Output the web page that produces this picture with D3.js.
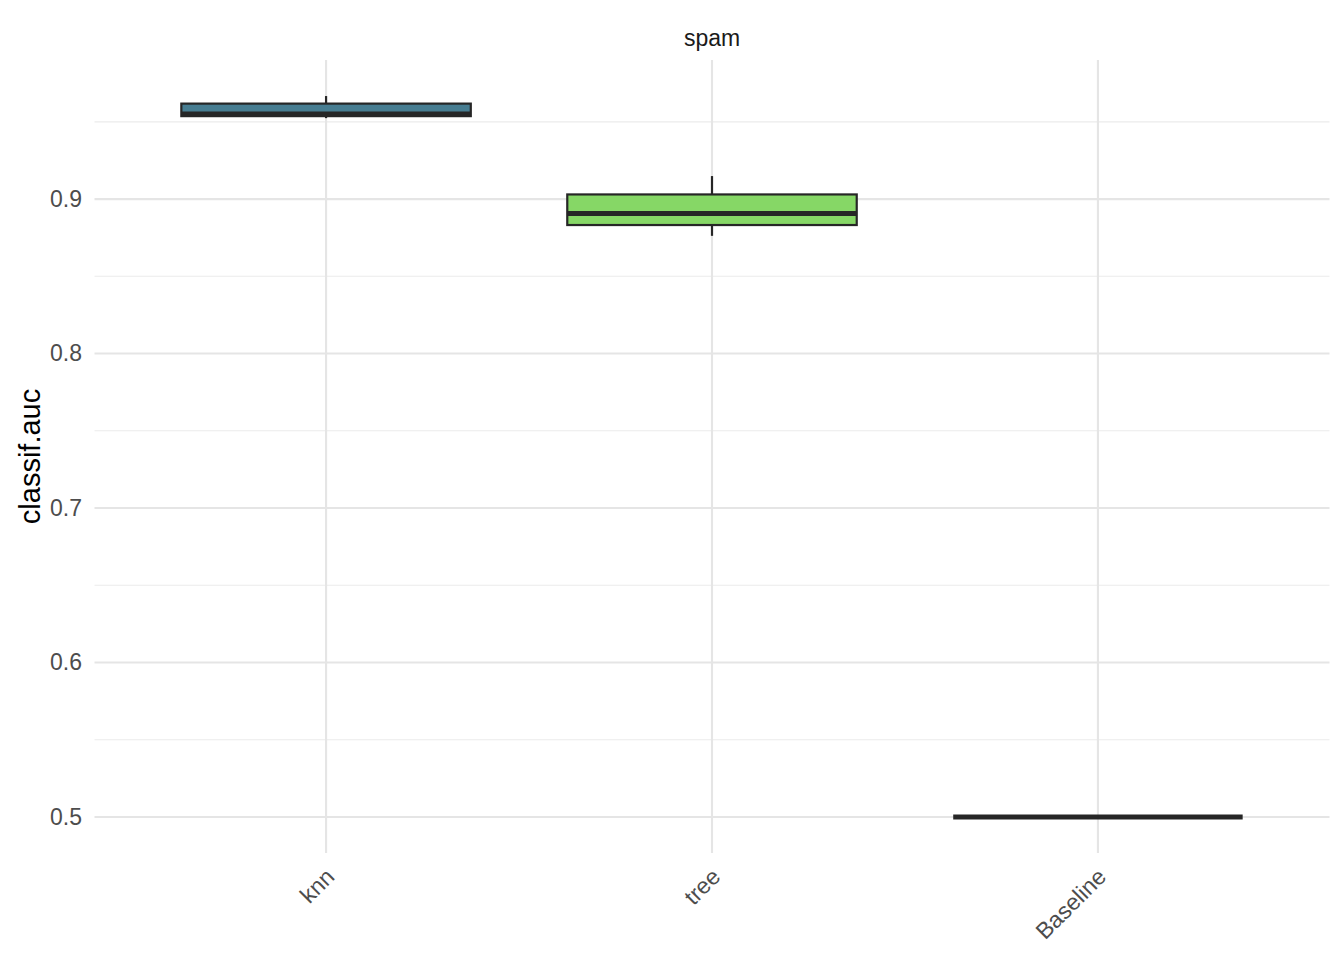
<!DOCTYPE html>
<html><head><meta charset="utf-8">
<script src="https://cdn.jsdelivr.net/npm/d3@7"></script>
<style>body{margin:0;background:#fff;font-family:"Liberation Sans",Arial,sans-serif;}</style>
</head><body><svg id="c" width="1344" height="960"></svg>
<script>
const categories = ["knn", "tree", "Baseline"];
const lowerWhisker = [0.9524, 0.8762, 0.5];
const q1Values = [0.9537, 0.8832, 0.5];
const medianValues = [0.9550, 0.8907, 0.5];
const q3Values = [0.9618, 0.9030, 0.5];
const upperWhisker = [0.9667, 0.9149, 0.5];
const fillColors = ["#477d91", "#86d766", "#9a9a9a"];
const yTicks = [0.5, 0.6, 0.7, 0.8, 0.9];
const yMinor = [0.55, 0.65, 0.75, 0.85, 0.95];

const svg = d3.select("#c");
const L = 94.5, R = 1329.5, T = 60, B = 853;
const lo = 0.5, hi = 0.9667, pad = (hi - lo) * 0.05;
const y = d3.scaleLinear().domain([lo - pad, hi + pad]).range([B, T]);
const x = d3.scalePoint().domain(categories).range([L, R]).padding(0.6);
const step = x.step();

const g = svg.append("g");
g.selectAll(".minor").data(yMinor).join("line")
  .attr("x1", L).attr("x2", R).attr("y1", d => y(d)).attr("y2", d => y(d))
  .attr("stroke", "#ebebeb").attr("stroke-width", 1.1);
g.selectAll(".major").data(yTicks).join("line")
  .attr("x1", L).attr("x2", R).attr("y1", d => y(d)).attr("y2", d => y(d))
  .attr("stroke", "#e5e5e5").attr("stroke-width", 2.1);
g.selectAll(".vmajor").data(categories).join("line")
  .attr("x1", d => x(d)).attr("x2", d => x(d))
  .attr("y1", T).attr("y2", B)
  .attr("stroke", "#e5e5e5").attr("stroke-width", 2.1);

const yAxis = d3.axisLeft(y).tickValues(yTicks).tickSize(0).tickPadding(0).tickFormat(d3.format(".1f"));
const ya = svg.append("g").attr("transform", `translate(${L - 12.5},0)`).call(yAxis);
ya.select(".domain").remove();
ya.selectAll("text").attr("font-size", 23).attr("fill", "#4d4d4d").attr("font-family", "Liberation Sans, Arial, sans-serif");

const xAxis = d3.axisBottom(x).tickSize(0).tickPadding(0);
const xa = svg.append("g").attr("transform", `translate(0,${B + 8})`).call(xAxis);
xa.select(".domain").remove();
xa.selectAll("text").attr("font-size", 23).attr("fill", "#4d4d4d")
  .attr("font-family", "Liberation Sans, Arial, sans-serif")
  .attr("text-anchor", "end").attr("dy", "0.75em")
  .attr("transform", "translate(-3,5) rotate(-45)");

const bw = step * 0.75;
const data = categories.map((c, i) => ({c, lw: lowerWhisker[i], q1: q1Values[i], med: medianValues[i], q3: q3Values[i], uw: upperWhisker[i], fill: fillColors[i]}));
const bx = svg.append("g").selectAll("g").data(data).join("g");
const cx = d => x(d.c);
bx.append("line").attr("x1", cx).attr("x2", cx).attr("y1", d => y(d.uw)).attr("y2", d => y(d.q3))
  .attr("stroke", "#262626").attr("stroke-width", 2.2);
bx.append("line").attr("x1", cx).attr("x2", cx).attr("y1", d => y(d.q1)).attr("y2", d => y(d.lw))
  .attr("stroke", "#262626").attr("stroke-width", 2.2);
bx.append("rect").attr("x", d => cx(d) - bw / 2).attr("width", bw)
  .attr("y", d => y(d.q3)).attr("height", d => Math.max(0, y(d.q1) - y(d.q3)))
  .attr("fill", d => d.fill).attr("stroke", "#262626").attr("stroke-width", 2.2);
bx.append("line").attr("x1", d => cx(d) - bw / 2).attr("x2", d => cx(d) + bw / 2)
  .attr("y1", d => y(d.med)).attr("y2", d => y(d.med))
  .attr("stroke", "#262626").attr("stroke-width", 5);

svg.append("text").attr("x", (L + R) / 2).attr("y", 46).attr("text-anchor", "middle")
  .attr("font-size", 23).attr("fill", "#1a1a1a").text("spam");
svg.append("text").attr("transform", `translate(40,${(T + B) / 2}) rotate(-90)`)
  .attr("text-anchor", "middle").attr("font-size", 29).attr("fill", "#000").text("classif.auc");
</script></body></html>
